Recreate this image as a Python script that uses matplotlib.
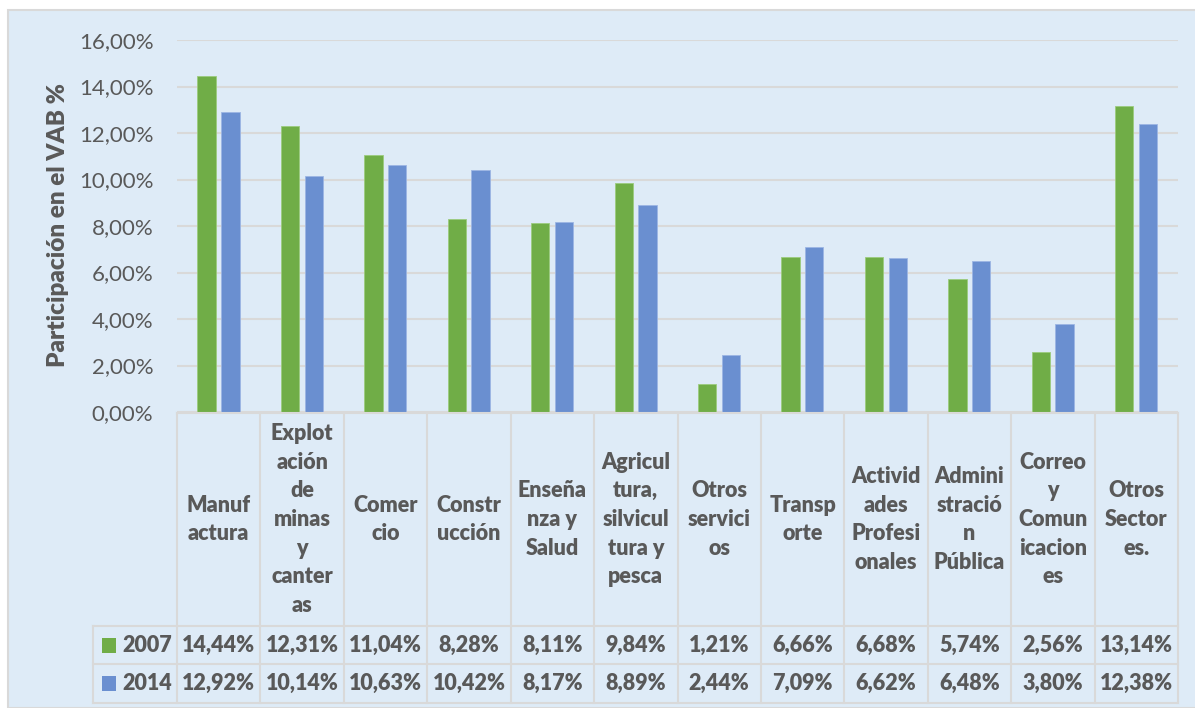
import matplotlib
matplotlib.use("Agg")
import matplotlib.pyplot as plt
from matplotlib.patches import Rectangle
from matplotlib.lines import Line2D
from matplotlib import transforms

categories = ["Manuf\nactura", "Explot\nación\nde\nminas\ny\ncanter\nas", "Comer\ncio",
              "Constr\nucción", "Enseña\nnza y\nSalud", "Agricul\ntura,\nsilvicul\ntura y\npesca",
              "Otros\nservici\nos", "Transp\norte", "Activid\nades\nProfesi\nonales",
              "Admini\nstració\nn\nPública", "Correo\ny\nComun\nicacion\nes", "Otros\nSector\nes."]
series_names = ["2007", "2014"]
v2007 = [14.44, 12.31, 11.04, 8.28, 8.11, 9.84, 1.21, 6.66, 6.68, 5.74, 2.56, 13.14]
v2014 = [12.92, 10.14, 10.63, 10.42, 8.17, 8.89, 2.44, 7.09, 6.62, 6.48, 3.80, 12.38]
yticks = [0, 2, 4, 6, 8, 10, 12, 14, 16]
ylabel = "Participación en el VAB %"

GREEN = "#70AD47"
BLUE = "#6A8FD0"
BG = "#DEEBF7"
GRID = "#D9D9D9"
TXT = "#595959"
FONT = ["Lato", "DejaVu Sans"]
plt.rcParams['font.family'] = FONT
WT = "heavy"

W, H = 1195, 708
fig = plt.figure(figsize=(W / 100, H / 100), dpi=100)
fig.patch.set_facecolor("white")

def fy(py):
    return 1 - py / H

fig.patches.append(Rectangle((8 / W, 0), (W - 8) / W + 0.01, fy(10), transform=fig.transFigure,
                             facecolor=BG, edgecolor=GRID, linewidth=1.5, zorder=-5))

x0, x1 = 177, 1178
ax = fig.add_axes([x0 / W, fy(412), (x1 - x0) / W, (412 - 40) / H], zorder=2)
ax.set_facecolor("none")
n = len(categories)
ax.set_xlim(-0.5, n - 0.5)
ax.set_ylim(0, 16)
ax.set_yticks(yticks)
ax.set_yticklabels([f"{t:.2f}".replace(".", ",") + "%" for t in yticks])
ax.set_xticks([])
for s in ax.spines.values():
    s.set_visible(False)
ax.yaxis.grid(True, color=GRID, linewidth=1.5)
ax.set_axisbelow(True)
ax.tick_params(axis="y", length=0, labelsize=16, labelcolor=TXT, pad=17)

xs = list(range(n))
bw = 0.22
ax.bar([x - 0.145 for x in xs], v2007, width=bw, color=GREEN, edgecolor="#9CCB7E", linewidth=0.6, zorder=3)
ax.bar([x + 0.14 for x in xs], v2014, width=bw, color=BLUE, edgecolor="#9DB6E3", linewidth=0.6, zorder=3)

fig.text(58 / W, fy(225), ylabel, rotation=90, ha="center", va="center",
         fontsize=17.5, fontweight=WT, color=TXT, zorder=5)

# data table
bt = transforms.blended_transform_factory(ax.transData, fig.transFigure)
lw = 1.5
top, hdr, r1, bot = 413, 626, 664, 703
for i in range(n + 1):
    ax.add_line(Line2D([i - 0.5, i - 0.5], [fy(top), fy(bot)], transform=bt, color=GRID, lw=lw, clip_on=False))
fig.lines.append(Line2D([x0 / W, x1 / W], [fy(top), fy(top)], transform=fig.transFigure, color=GRID, lw=lw, zorder=5))
for yy in (hdr, r1, bot):
    fig.lines.append(Line2D([93 / W, x1 / W], [fy(yy), fy(yy)], transform=fig.transFigure, color=GRID, lw=lw, zorder=5))
fig.lines.append(Line2D([93 / W, 93 / W], [fy(hdr), fy(bot)], transform=fig.transFigure, color=GRID, lw=lw, zorder=5))

for i, c in enumerate(categories):
    ax.text(i, fy((top + hdr) / 2), c, transform=bt, ha="center", va="center", clip_on=False,
            fontsize=15.5, fontweight=WT, color=TXT, linespacing=1.45, multialignment="center")

def fmt(v):
    return f"{v:.2f}".replace(".", ",") + "%"

rows = [(series_names[0], v2007, GREEN, (hdr + r1) / 2), (series_names[1], v2014, BLUE, (r1 + bot) / 2)]
for name, vals, col, yc in rows:
    for i, v in enumerate(vals):
        ax.text(i, fy(yc), fmt(v), transform=bt, ha="center", va="center", clip_on=False,
                fontsize=15.5, fontweight=WT, color=TXT)
    fig.patches.append(Rectangle((102 / W, fy(yc + 7.5)), 14 / W, 15 / H, transform=fig.transFigure,
                                 facecolor=col, edgecolor="none", zorder=5))
    fig.text(122 / W, fy(yc), name, ha="left", va="center", fontsize=15.5, fontweight=WT, color=TXT, zorder=5)

fig.savefig("out.png", dpi=100)
